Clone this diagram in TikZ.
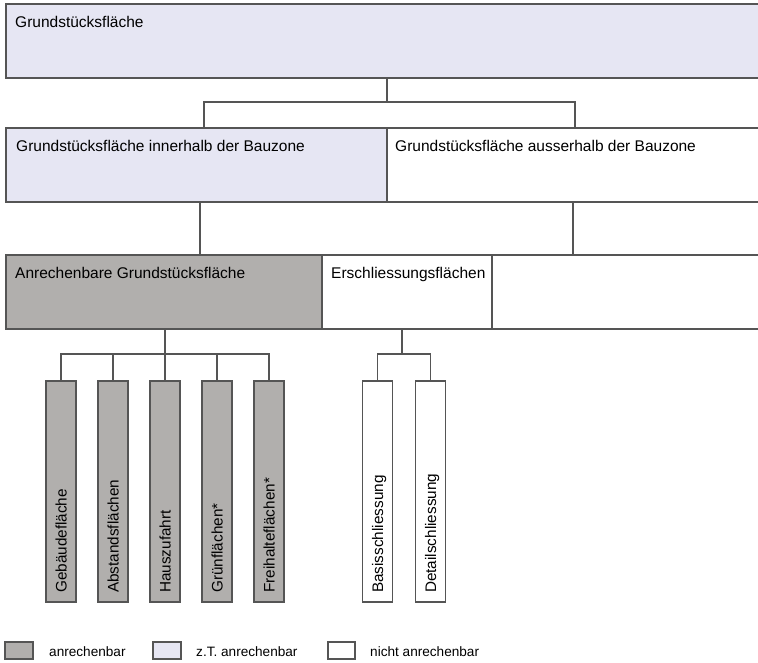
\documentclass[tikz,border=0pt]{standalone}
\usepackage{fontspec}
\setmainfont{Liberation Sans}
\usetikzlibrary{calc}
\definecolor{lc}{HTML}{555555}
\definecolor{grau}{HTML}{B1AFAD}
\definecolor{lav}{HTML}{E6E6F3}
\tikzset{
  boxs/.style={draw=lc, line width=1.1pt, inner sep=0pt, outer sep=0pt, anchor=north west},
  conn/.style={draw=lc, line width=1.1pt},
  txt/.style={anchor=base west, inner sep=0pt, font=\fontsize{15.5}{18}\selectfont},
  vtxt/.style={anchor=base west, rotate=90, inner sep=0pt, font=\fontsize{15.3}{18}\selectfont},
  ltxt/.style={anchor=base west, inner sep=0pt, font=\fontsize{13.6}{16}\selectfont},
  bar/.style={boxs, minimum width=30pt, minimum height=221pt}
}
\begin{document}
\begin{tikzpicture}[x=1pt,y=-1pt]
\useasboundingbox (0,0) rectangle (758,662);
\clip (0,0) rectangle (758,662);
% row 1
\node[boxs, fill=lav, minimum width=760pt, minimum height=74pt] (top) at (6,4) {};
\node[txt] (ttop) at ($(top.north west)+(9,23)$) {Grundstücksfläche};
% row 2
\node[boxs, fill=lav, minimum width=381pt, minimum height=74pt] (inn) at (6,128) {};
\node[txt] (tinn) at ($(inn.north west)+(10,23.5)$) {Grundstücksfläche innerhalb der Bauzone};
\node[boxs, fill=white, minimum width=380pt, minimum height=74pt] (aus) at (387,128) {};
\node[txt] (taus) at ($(aus.north west)+(8,23.5)$) {Grundstücksfläche ausserhalb der Bauzone};
% row 3
\node[boxs, fill=grau, minimum width=316pt, minimum height=74pt] (anr) at (6,255) {};
\node[txt] (tanr) at ($(anr.north west)+(9,23)$) {Anrechenbare Grundstücksfläche};
\node[boxs, fill=white, minimum width=170pt, minimum height=74pt] (ers) at (322,255) {};
\node[txt] (ters) at ($(ers.north west)+(9,23)$) {Erschliessungsflächen};
\node[boxs, fill=white, minimum width=280pt, minimum height=74pt] (rest) at (492,255) {};
% connectors row1 -> row2
\coordinate (j1) at (387,102);
\draw[conn] (top.south -| j1) -- (j1);
\draw[conn] (inn.north -| 204,0) |- (j1) -| (aus.north -| 575,0);
% row2 -> row3
\draw[conn] (inn.south -| 200,0) -- (anr.north -| 200,0);
\draw[conn] (aus.south -| 573,0) -- (rest.north -| 573,0);
% bars
\node[bar, fill=grau] (g1) at (46,381) {};
\node[bar, fill=grau] (g2) at (98,381) {};
\node[bar, fill=grau] (g3) at (150,381) {};
\node[bar, fill=grau] (g4) at (202,381) {};
\node[bar, fill=grau] (g5) at (254,381) {};
\node[bar, fill=white] (w1) at (362.5,381) {};
\node[bar, fill=white] (w2) at (415.5,381) {};
\node[vtxt] at ($(g1.south)+(5.5,-9)$) {Gebäudefläche};
\node[vtxt] at ($(g2.south)+(5.5,-9)$) {Abstandsflächen};
\node[vtxt] at ($(g3.south)+(5.5,-9)$) {Hauszufahrt};
\node[vtxt] at ($(g4.south)+(5.5,-9)$) {Grünflächen*};
\node[vtxt] at ($(g5.south)+(5.5,-9)$) {Freihalteflächen*};
\node[vtxt] at ($(w1.south)+(5.5,-9)$) {Basisschliessung};
\node[vtxt] at ($(w2.south)+(5.5,-9)$) {Detailschliessung};
% bar connectors
\coordinate (ga) at (165,354);
\draw[conn] (anr.south -| ga) -- (ga);
\draw[conn] (g1.north) |- (ga) -| (g5.north);
\draw[conn] (g2.north) -- (g2.north |- ga);
\draw[conn] (g3.north) -- (g3.north |- ga);
\draw[conn] (g4.north) -- (g4.north |- ga);
\coordinate (ea) at (402,354);
\draw[conn] (ers.south -| ea) -- (ea);
\draw[conn] (w1.north) |- (ea) -| (w2.north);
% legend
\node[boxs, fill=grau, minimum width=28pt, minimum height=17pt] (l1) at (5,642) {};
\node[ltxt] at (49,656) {anrechenbar};
\node[boxs, fill=lav, minimum width=28pt, minimum height=17pt] (l2) at (153,642) {};
\node[ltxt] at (196,656) {z.T. anrechenbar};
\node[boxs, fill=white, minimum width=27pt, minimum height=17pt] (l3) at (328,642) {};
\node[ltxt] at (370,656) {nicht anrechenbar};
\end{tikzpicture}
\end{document}
